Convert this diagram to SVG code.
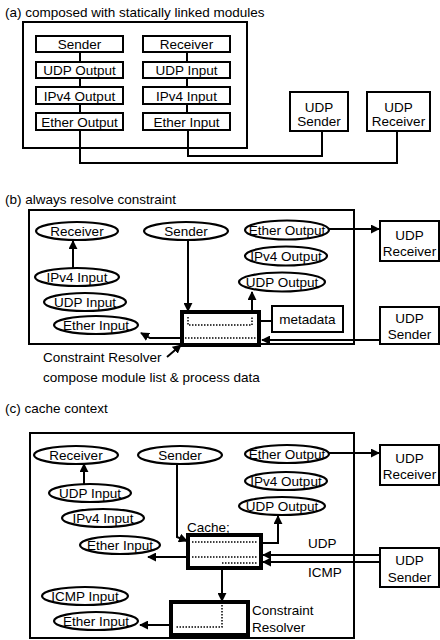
<svg xmlns="http://www.w3.org/2000/svg" width="440" height="640" viewBox="0 0 440 640">
<defs>
<style>
.t{font-family:"Liberation Sans",Arial,sans-serif;font-size:13.5px;fill:#000}
.m{text-anchor:middle}
.box{fill:#fff;stroke:#000;stroke-width:2}
.frame{fill:none;stroke:#000;stroke-width:2}
.thick{fill:#fff;stroke:#000;stroke-width:4}
.ell{fill:#fff;stroke:#000;stroke-width:2.2}
.ln{fill:none;stroke:#000;stroke-width:2}
.ar{fill:none;stroke:#000;stroke-width:2;marker-end:url(#ah)}
.dot{fill:none;stroke:#000;stroke-width:1.5;stroke-dasharray:1.5 1.5}
</style>
<marker id="ah" viewBox="0 0 10 10" refX="9" refY="5" markerWidth="9" markerHeight="9" markerUnits="userSpaceOnUse" orient="auto"><path d="M0,0 L10,5 L0,10 z" fill="#000"/></marker>
</defs>
<rect width="440" height="640" fill="#fff"/>

<!-- Panel (a) -->
<text class="t" x="5" y="17">(a) composed with statically linked modules</text>
<rect class="frame" x="23" y="22" width="224" height="126"/>
<g id="a-connectors">
<path class="ln" d="M80,52V62M80,78V87M80,104V113M187,52V62M187,78V87M187,104V113"/>
<path class="ln" d="M80,130V163H397V131"/>
<path class="ln" d="M188,130V156H322V131"/>
</g>
<g id="a-sender"><rect class="box" x="36" y="36" width="87" height="16"/><text class="t m" x="79.5" y="49">Sender</text></g>
<g id="a-udp-output"><rect class="box" x="36" y="62" width="87" height="16"/><text class="t m" x="79.5" y="75">UDP Output</text></g>
<g id="a-ipv4-output"><rect class="box" x="36" y="87" width="87" height="17"/><text class="t m" x="79.5" y="100.5">IPv4 Output</text></g>
<g id="a-ether-output"><rect class="box" x="36" y="113" width="87" height="17"/><text class="t m" x="79.5" y="126.5">Ether Output</text></g>
<g id="a-receiver"><rect class="box" x="143" y="36" width="87" height="16"/><text class="t m" x="186.5" y="49">Receiver</text></g>
<g id="a-udp-input"><rect class="box" x="143" y="62" width="87" height="16"/><text class="t m" x="186.5" y="75">UDP Input</text></g>
<g id="a-ipv4-input"><rect class="box" x="143" y="87" width="87" height="17"/><text class="t m" x="186.5" y="100.5">IPv4 Input</text></g>
<g id="a-ether-input"><rect class="box" x="143" y="113" width="87" height="17"/><text class="t m" x="186.5" y="126.5">Ether Input</text></g>
<g id="a-udp-sender"><rect class="box" x="290" y="92" width="58" height="39"/><text class="t m" x="319" y="111.5">UDP</text><text class="t m" x="319" y="125.5">Sender</text></g>
<g id="a-udp-receiver"><rect class="box" x="367" y="92" width="63" height="39"/><text class="t m" x="398.5" y="111.5">UDP</text><text class="t m" x="398.5" y="125.5">Receiver</text></g>

<!-- Panel (b) -->
<text class="t" x="5" y="204">(b) always resolve constraint</text>
<rect class="frame" x="29" y="210" width="325" height="134"/>
<g id="b-connectors">
<path class="ar" d="M73,268V241"/>
<path class="ar" d="M188,240V311"/>
<path class="ar" d="M252,311V292"/>
<path class="ar" d="M182,338H150L141,333"/>
<path class="ar" d="M380,340H262"/>
<path class="ar" d="M329,229H379"/>
<path class="ln" d="M260,321H272"/>
<path class="ar" d="M167,357L181,345"/>
</g>
<g id="b-receiver"><ellipse class="ell" cx="77" cy="231" rx="41" ry="9"/><text class="t m" x="77" y="236">Receiver</text></g>
<g id="b-sender"><ellipse class="ell" cx="186" cy="231" rx="42" ry="9"/><text class="t m" x="186" y="236">Sender</text></g>
<g id="b-ether-output"><ellipse class="ell" cx="287" cy="230" rx="42" ry="9.5"/><text class="t m" x="287" y="235">Ether Output</text></g>
<g id="b-ipv4-output"><ellipse class="ell" cx="286" cy="256" rx="41" ry="9.5"/><text class="t m" x="286" y="261">IPv4 Output</text></g>
<g id="b-udp-output"><ellipse class="ell" cx="282" cy="282" rx="43" ry="9.5"/><text class="t m" x="282" y="287">UDP Output</text></g>
<g id="b-ipv4-input"><ellipse class="ell" cx="77" cy="277" rx="42" ry="9"/><text class="t m" x="77" y="282">IPv4 Input</text></g>
<g id="b-udp-input"><ellipse class="ell" cx="85" cy="302" rx="41" ry="9"/><text class="t m" x="85" y="307">UDP Input</text></g>
<g id="b-ether-input"><ellipse class="ell" cx="96" cy="325" rx="42" ry="9"/><text class="t m" x="96" y="330">Ether Input</text></g>
<g id="b-resolver"><rect class="thick" x="182" y="312" width="77" height="33"/><path class="dot" d="M188,317V325H252V317"/><path class="dot" d="M185,338H257"/></g>
<g id="b-metadata"><rect class="box" x="272" y="306" width="71" height="26"/><text class="t m" x="307.5" y="324">metadata</text></g>
<g id="b-udp-receiver"><rect class="box" x="380" y="221" width="59" height="40"/><text class="t m" x="409.5" y="240">UDP</text><text class="t m" x="409.5" y="256">Receiver</text></g>
<g id="b-udp-sender"><rect class="box" x="380" y="307" width="59" height="37"/><text class="t m" x="409.5" y="323">UDP</text><text class="t m" x="409.5" y="339">Sender</text></g>
<text class="t" x="43" y="362">Constraint Resolver</text>
<text class="t" x="43" y="382">compose module list &amp; process data</text>

<!-- Panel (c) -->
<text class="t" x="5" y="413">(c) cache context</text>
<rect class="frame" x="30" y="433" width="324" height="205"/>
<g id="c-connectors">
<path class="ar" d="M84,485V464"/>
<path class="ar" d="M177,464V537L187,541"/>
<path class="ar" d="M261,543H278V516"/>
<path class="ar" d="M188,557H148"/>
<path class="ar" d="M380,555H263"/>
<path class="ar" d="M380,562H263"/>
<path class="ar" d="M222,568V601"/>
<path class="ar" d="M171,625H140"/>
<path class="ar" d="M329,453H379"/>
</g>
<g id="c-receiver"><ellipse class="ell" cx="76" cy="455" rx="42" ry="9"/><text class="t m" x="76" y="460">Receiver</text></g>
<g id="c-sender"><ellipse class="ell" cx="180" cy="455" rx="42" ry="9"/><text class="t m" x="180" y="460">Sender</text></g>
<g id="c-ether-output"><ellipse class="ell" cx="287" cy="454" rx="42" ry="9"/><text class="t m" x="287" y="459">Ether Output</text></g>
<g id="c-ipv4-output"><ellipse class="ell" cx="286" cy="481" rx="41" ry="9"/><text class="t m" x="286" y="486">IPv4 Output</text></g>
<g id="c-udp-output"><ellipse class="ell" cx="282" cy="506" rx="43" ry="9"/><text class="t m" x="282" y="511">UDP Output</text></g>
<g id="c-udp-input"><ellipse class="ell" cx="90" cy="493" rx="41" ry="9"/><text class="t m" x="90" y="498">UDP Input</text></g>
<g id="c-ipv4-input"><ellipse class="ell" cx="103" cy="518" rx="41" ry="9"/><text class="t m" x="103" y="523">IPv4 Input</text></g>
<g id="c-ether-input"><ellipse class="ell" cx="120" cy="545" rx="40" ry="9"/><text class="t m" x="120" y="550">Ether Input</text></g>
<g id="c-icmp-input"><ellipse class="ell" cx="85" cy="596" rx="43" ry="9"/><text class="t m" x="85" y="601">ICMP Input</text></g>
<g id="c-ether-input-2"><ellipse class="ell" cx="96" cy="621" rx="42" ry="9"/><text class="t m" x="96" y="626">Ether Input</text></g>
<g id="c-cache"><text class="t" x="187" y="532">Cache;</text><rect class="thick" x="188" y="535" width="73" height="33"/><path class="dot" d="M192,542H258M192,557H258M222,563H258"/></g>
<g id="c-resolver"><rect class="thick" x="171" y="602" width="77" height="33"/><path class="dot" d="M222,605V627H175"/><text class="t" x="252" y="615">Constraint</text><text class="t" x="252" y="632">Resolver</text></g>
<text class="t" x="308" y="548">UDP</text>
<text class="t" x="308" y="577">ICMP</text>
<g id="c-udp-receiver"><rect class="box" x="380" y="445" width="59" height="40"/><text class="t m" x="409.5" y="463">UDP</text><text class="t m" x="409.5" y="479">Receiver</text></g>
<g id="c-udp-sender"><rect class="box" x="380" y="548" width="59" height="39"/><text class="t m" x="409.5" y="565">UDP</text><text class="t m" x="409.5" y="582">Sender</text></g>
</svg>
